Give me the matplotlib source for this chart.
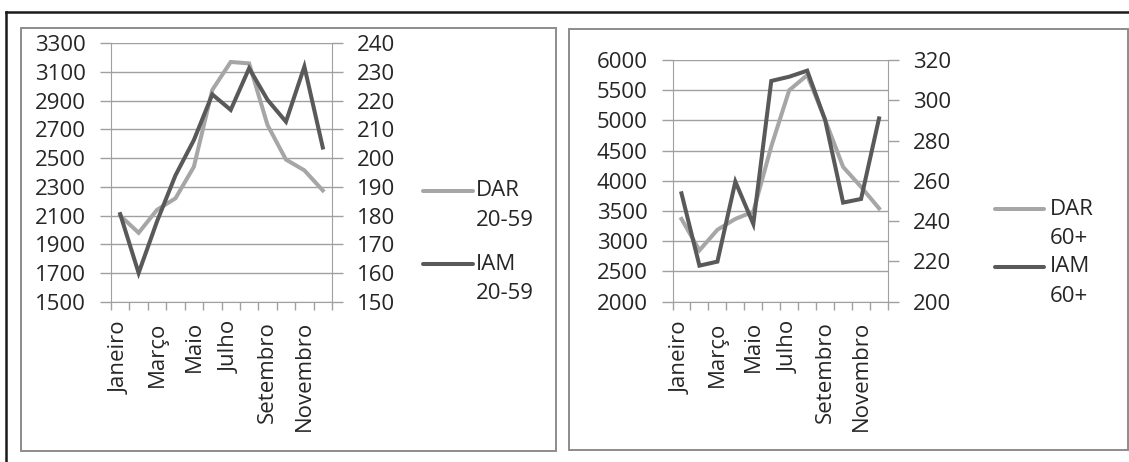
import numpy as np
import matplotlib
matplotlib.use('Agg')
import matplotlib.pyplot as plt
from matplotlib.patches import Rectangle
from matplotlib.lines import Line2D

plt.rcParams['font.family'] = ['Open Sans', 'DejaVu Sans']

# Data
meses = ['Janeiro', 'Fevereiro', 'Março', 'Abril', 'Maio', 'Junho', 'Julho',
         'Agosto', 'Setembro', 'Outubro', 'Novembro', 'Dezembro']
dar_20_59 = [2100, 1980, 2140, 2220, 2440, 2975, 3170, 3160, 2730, 2490, 2415, 2275]
iam_20_59 = [180.5, 160, 178, 194, 206.3, 222.2, 216.8, 231.3, 220.3, 212.7, 231.9, 203.7]
dar_60 = [3370, 2850, 3190, 3370, 3490, 4570, 5500, 5750, 5010, 4230, 3900, 3545]
iam_60 = [253.8, 217.9, 219.9, 259.6, 238.6, 309.6, 311.7, 314.7, 290.2, 249.2, 251, 291]

W, H = 1129, 462
GRAY = '#a0a0a0'
TXT = '#262626'
C_DAR = '#a6a6a6'
C_IAM = '#595959'
FS = 16

fig = plt.figure(figsize=(W / 100, H / 100), dpi=100)


def fx(px):
    return px / W


def fy(py):
    return 1 - py / H


# outer frame (black) and chart boxes
fig.add_artist(Line2D([fx(6), fx(6)], [fy(12), fy(462)], color='#1a1a1a', lw=1.8))
fig.add_artist(Line2D([fx(6), fx(1129)], [fy(12), fy(12)], color='#1a1a1a', lw=1.8))
for x0, y0, x1, y1 in [(21, 28, 556, 451), (569, 29, 1128, 450)]:
    fig.add_artist(Rectangle((fx(x0), fy(y1)), fx(x1 - x0), (y1 - y0) / H,
                             fill=False, ec='#8c8c8c', lw=1.4, transform=fig.transFigure))


def make_chart(box, dar, iam, lim1, step1, lim2, step2):
    l, t, r, b = box
    ax = fig.add_axes([fx(l), fy(b), fx(r - l), (b - t) / H])
    x = np.arange(len(meses))
    ax.plot(x, dar, color=C_DAR, lw=2.9, solid_joinstyle='miter')
    ax.set_xlim(-0.5, len(meses) - 0.5)
    ax.set_ylim(*lim1)
    ax.set_yticks(np.arange(lim1[0], lim1[1] + 1, step1))
    ax.yaxis.grid(True, color=GRAY, lw=1)
    ax.set_axisbelow(True)
    # x ticks: marks at boundaries, labels on every other month
    ax.set_xticks(np.arange(-0.5, len(meses), 1))
    ax.set_xticklabels([])
    ax.set_xticks(x[::2], minor=True)
    ax.set_xticklabels(meses[::2], minor=True, rotation=90, fontsize=FS, color=TXT)
    ax.tick_params(axis='x', which='major', length=6, color=GRAY, width=1)
    ax.tick_params(axis='x', which='minor', length=0, pad=14)
    ax.tick_params(axis='y', length=8, color=GRAY, width=1, pad=10,
                   labelsize=FS, labelcolor=TXT)
    for s in ['top', 'right']:
        ax.spines[s].set_visible(False)
    for s in ['left', 'bottom']:
        ax.spines[s].set_color(GRAY)

    ax2 = ax.twinx()
    ax2.plot(x, iam, color=C_IAM, lw=2.9, solid_joinstyle='miter')
    ax2.set_ylim(*lim2)
    ax2.set_yticks(np.arange(lim2[0], lim2[1] + 1, step2))
    ax2.tick_params(axis='y', length=8, color=GRAY, width=1, pad=10,
                    labelsize=FS, labelcolor=TXT)
    for s in ['top', 'left', 'bottom']:
        ax2.spines[s].set_visible(False)
    ax2.spines['right'].set_color(GRAY)
    return ax, ax2


make_chart((111, 43.3, 332, 301.7), dar_20_59, iam_20_59, (1500, 3300), 200, (150, 240), 10)
make_chart((672.5, 60, 888, 301.7), dar_60, iam_60, (2000, 6000), 500, (200, 320), 20)


# legends
def legend(x0, x1, tx, rows):
    for y, col, lab, y2, lab2 in rows:
        fig.add_artist(Line2D([fx(x0), fx(x1)], [fy(y), fy(y)], color=col, lw=2.9,
                              solid_capstyle='round'))
        fig.text(fx(tx), fy(y), lab, fontsize=FS, color=TXT, va='center', ha='left')
        fig.text(fx(tx), fy(y2), lab2, fontsize=FS, color=TXT, va='center', ha='left')


legend(423, 473, 476, [(190.7, C_DAR, 'DAR', 220, '20-59'),
                       (264, C_IAM, 'IAM', 293.3, '20-59')])
legend(995, 1044, 1050, [(209.3, C_DAR, 'DAR', 238.3, '60+'),
                         (266.7, C_IAM, 'IAM', 296.7, '60+')])

fig.savefig('out.png', dpi=100)
